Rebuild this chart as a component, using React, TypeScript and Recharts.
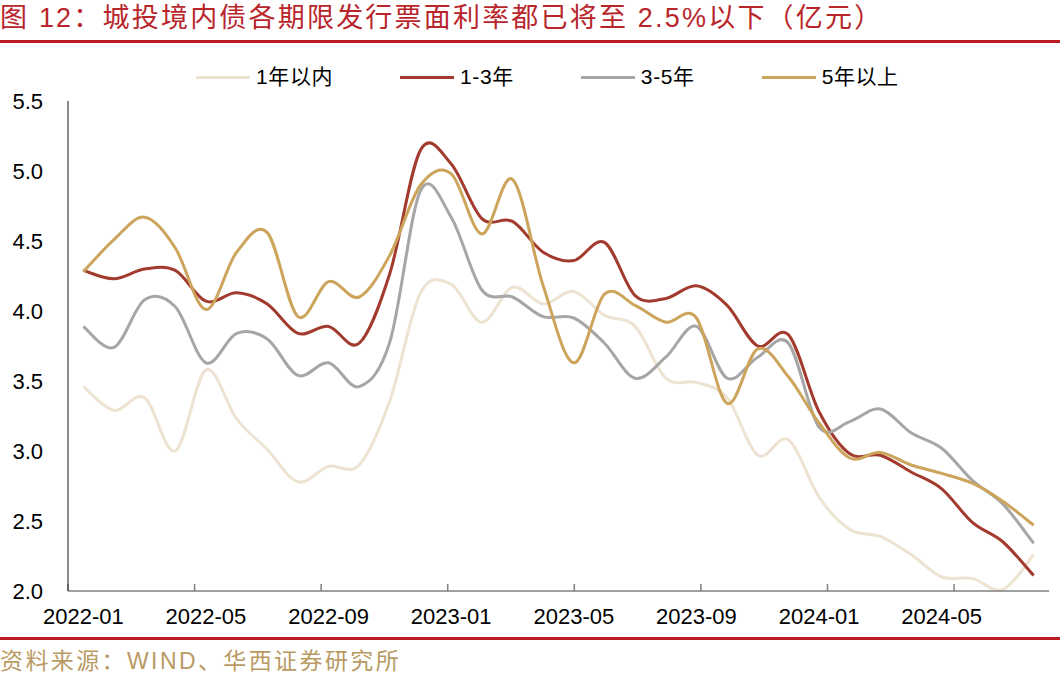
import React from 'react';
import { LineChart, Line, XAxis, YAxis } from 'recharts';

// monthly coupon rates of chengtou bonds, by tenor
const months = [
  '2022-01', '2022-02', '2022-03', '2022-04', '2022-05', '2022-06', '2022-07', '2022-08',
  '2022-09', '2022-10', '2022-11', '2022-12', '2023-01', '2023-02', '2023-03', '2023-04',
  '2023-05', '2023-06', '2023-07', '2023-08', '2023-09', '2023-10', '2023-11', '2023-12',
  '2024-01', '2024-02', '2024-03', '2024-04', '2024-05', '2024-06', '2024-07', '2024-08',
];

const within1y = [
  3.46, 3.29, 3.38, 3.0, 3.58, 3.23, 3.01, 2.78, 2.89, 2.9, 3.36, 4.13, 4.19, 3.92, 4.17, 4.05,
  4.14, 3.97, 3.89, 3.52, 3.49, 3.38, 2.97, 3.08, 2.67, 2.44, 2.39, 2.26, 2.1, 2.09, 2.01, 2.26,
];
const y1to3 = [
  4.29, 4.23, 4.3, 4.29, 4.07, 4.13, 4.05, 3.84, 3.89, 3.77, 4.27, 5.15, 5.05, 4.66, 4.64, 4.42,
  4.36, 4.49, 4.11, 4.09, 4.18, 4.04, 3.75, 3.83, 3.28, 2.98, 2.97, 2.85, 2.73, 2.49, 2.35, 2.11,
];
const y3to5 = [
  3.89, 3.74, 4.08, 4.03, 3.63, 3.84, 3.8, 3.54, 3.63, 3.46, 3.78, 4.86, 4.67, 4.15, 4.1, 3.96,
  3.95, 3.77, 3.52, 3.67, 3.89, 3.52, 3.67, 3.77, 3.17, 3.21, 3.3, 3.13, 3.02, 2.79, 2.62, 2.34,
];
const over5y = [
  4.28, 4.51, 4.67, 4.45, 4.01, 4.42, 4.56, 3.96, 4.21, 4.1, 4.4, 4.9, 4.98, 4.55, 4.94, 4.18,
  3.63, 4.12, 4.04, 3.92, 3.95, 3.34, 3.73, 3.53, 3.2, 2.95, 2.99, 2.9, 2.84, 2.77, 2.64, 2.47,
];

const yTicks = [2.0, 2.5, 3.0, 3.5, 4.0, 4.5, 5.0, 5.5];
const boundaryTicks = [0, 4, 8, 12, 16, 20, 24, 28, 32];

const series = [
  { key: 'within1y', name: '1年以内', color: '#EEE3D2' },
  { key: 'y1to3', name: '1-3年', color: '#A23B2E' },
  { key: 'y3to5', name: '3-5年', color: '#A6A6A6' },
  { key: 'over5y', name: '5年以上', color: '#CCA45C' },
];

const data = months.map((month, i) => ({
  month,
  within1y: within1y[i],
  y1to3: y1to3[i],
  y3to5: y3to5[i],
  over5y: over5y[i],
}));

// Excel-like smoothed line (catmull-rom through every point)
const smoothCurve = (context: any) => {
  let pts: number[][] = [];
  return {
    areaStart() {},
    areaEnd() {},
    lineStart() {
      pts = [];
    },
    point(x: number, y: number) {
      pts.push([+x, +y]);
    },
    lineEnd() {
      const n = pts.length;
      if (!n) return;
      context.moveTo(pts[0][0], pts[0][1]);
      for (let i = 0; i < n - 1; i++) {
        const p0 = pts[Math.max(0, i - 1)];
        const p1 = pts[i];
        const p2 = pts[i + 1];
        const p3 = pts[Math.min(n - 1, i + 2)];
        context.bezierCurveTo(
          p1[0] + (p2[0] - p0[0]) / 6,
          p1[1] + (p2[1] - p0[1]) / 6,
          p2[0] - (p3[0] - p1[0]) / 6,
          p2[1] - (p3[1] - p1[1]) / 6,
          p2[0],
          p2[1]
        );
      }
    },
  };
};

const latin = "'Liberation Sans', Arial, sans-serif";
const cjk = "'Liberation Sans', 'Noto Sans CJK SC', sans-serif";

export default function App() {
  return (
    <div style={{ position: 'absolute', left: 0, top: 0, width: 1060, height: 676, background: '#fff', overflow: 'hidden' }}>
      <div
        style={{
          position: 'absolute',
          left: 0,
          top: 1,
          fontFamily: cjk,
          fontSize: 27,
          letterSpacing: 2.2,
          color: '#B8252B',
          whiteSpace: 'nowrap',
          lineHeight: '34px',
        }}
      >
        图 12：城投境内债各期限发行票面利率都已将至 2.5%以下（亿元）
      </div>
      <div style={{ position: 'absolute', left: 0, top: 40, width: 1060, height: 3, background: '#B81C22' }} />

      <div
        style={{
          position: 'absolute',
          left: 196,
          top: 63,
          display: 'flex',
          alignItems: 'center',
          gap: 67,
          fontFamily: cjk,
          fontSize: 21,
          letterSpacing: 0.6,
          color: '#000',
          whiteSpace: 'nowrap',
          lineHeight: '28px',
        }}
      >
        {series.map((s) => (
          <div key={s.key} style={{ display: 'flex', alignItems: 'center' }}>
            <div style={{ width: 54, height: 3, background: s.color, marginRight: 6 }} />
            <span>{s.name}</span>
          </div>
        ))}
      </div>

      <div style={{ position: 'absolute', left: 0, top: 0 }}>
        <LineChart width={1060} height={676} data={data} margin={{ top: 101, right: 11, bottom: 45, left: 8 }}>
          <XAxis
            dataKey="month"
            scale="band"
            interval={3}
            tickLine={false}
            tickSize={0}
            tickMargin={17}
            axisLine={{ stroke: '#808080', strokeWidth: 1.5 }}
            tick={{ fill: '#000', fontSize: 22, fontFamily: latin }}
            height={40}
          />
          <XAxis
            xAxisId="marks"
            type="number"
            domain={[0, 32]}
            ticks={boundaryTicks}
            mirror
            axisLine={false}
            tickSize={7}
            tickLine={{ stroke: '#808080', strokeWidth: 1.5 }}
            tickFormatter={() => ''}
          />
          <YAxis
            domain={[2, 5.5]}
            ticks={yTicks}
            width={60}
            tickLine={false}
            tickSize={0}
            tickMargin={25}
            axisLine={{ stroke: '#404040', strokeWidth: 1.2 }}
            tick={{ fill: '#000', fontSize: 22, fontFamily: latin }}
            tickFormatter={(v: number) => v.toFixed(1)}
          />
          <YAxis
            yAxisId="marks"
            domain={[2, 5.5]}
            ticks={yTicks}
            mirror
            axisLine={false}
            tickSize={7}
            tickLine={{ stroke: '#404040', strokeWidth: 1.2 }}
            tickFormatter={() => ''}
          />
          {series.map((s) => (
            <Line
              key={s.key}
              dataKey={s.key}
              name={s.name}
              type={smoothCurve as any}
              stroke={s.color}
              strokeWidth={3}
              dot={false}
              activeDot={false}
              isAnimationActive={false}
            />
          ))}
        </LineChart>
      </div>

      <div style={{ position: 'absolute', left: 0, top: 637, width: 1060, height: 3, background: '#B81C22' }} />
      <div
        style={{
          position: 'absolute',
          left: 0,
          top: 646,
          fontFamily: cjk,
          fontSize: 23,
          letterSpacing: 2.4,
          color: '#B99A63',
          whiteSpace: 'nowrap',
          lineHeight: '30px',
        }}
      >
        资料来源：WIND、华西证券研究所
      </div>
    </div>
  );
}
